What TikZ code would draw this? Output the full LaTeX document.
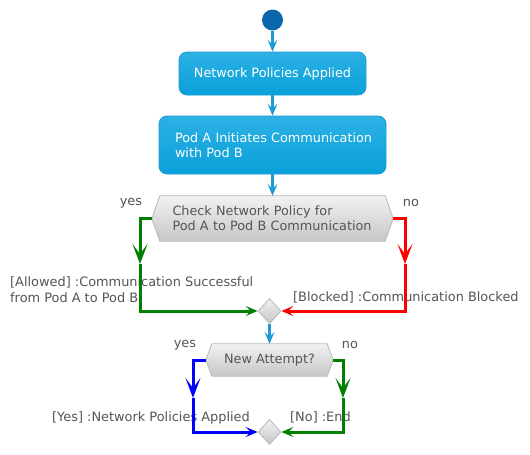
\documentclass[tikz,border=0pt]{standalone}
\usepackage{fontspec}
\setmainfont{DejaVu Sans}
\usetikzlibrary{arrows.meta,calc,shapes.geometric}
\pgfdeclarelayer{bg}
\pgfsetlayers{bg,main}
\definecolor{startc}{HTML}{0B67AC}
\definecolor{acttop}{HTML}{2CB1E4}
\definecolor{actbot}{HTML}{09A0D9}
\definecolor{actborder}{HTML}{1A9BD5}
\definecolor{flowc}{HTML}{1E9BD7}
\definecolor{hextop}{HTML}{F2F2F2}
\definecolor{hexbot}{HTML}{C6C6C6}
\definecolor{hexborder}{HTML}{B8B8B8}
\definecolor{txtgray}{HTML}{555555}
\definecolor{brgreen}{HTML}{008000}
\definecolor{brred}{HTML}{FF0000}
\definecolor{brblue}{HTML}{0000FF}
\tikzset{
  smalltip/.tip={Stealth[length=12pt,width=10pt,inset=5pt]},
  bigtip/.tip={Stealth[length=20pt,width=15pt,inset=10pt]},
  act/.style={draw=actborder, line width=0.8pt, rounded corners=8pt,
    top color=acttop, bottom color=actbot, text=white,
    font=\fontsize{12.8}{15}\selectfont, inner sep=0pt},
  hexbox/.style={inner sep=0pt, text=txtgray, font=\fontsize{12.8}{15}\selectfont},
  hexfill/.style={draw=hexborder, line width=0.8pt, top color=hextop, bottom color=hexbot},
  merge/.style={diamond, inner sep=0pt, draw=hexborder, line width=0.8pt,
    top color=hextop, bottom color=hexbot, minimum width=23pt, minimum height=25pt},
  flow/.style={draw=flowc, line width=2.5pt, -{smalltip}},
  branch/.style={line width=3pt},
  lbl/.style={text=txtgray, font=\fontsize{12.9}{16}\selectfont, inner sep=0pt},
}
\begin{document}
\begin{tikzpicture}[x=1pt,y=-1pt]
\useasboundingbox (0,0) rectangle (530,455);
\begin{pgfonlayer}{bg}
\fill[white] (0,0) rectangle (530,455);
\end{pgfonlayer}

% start
\node[circle, fill=startc, minimum size=21pt, inner sep=0pt] (st) at (272.5,20) {};

% actions
\node[act, minimum width=187pt, minimum height=43pt] (b1) at (272.5,73.5) {Network Policies Applied};
\node[act, minimum width=227pt, minimum height=58pt, text width=195pt, align=left] (b2) at (272.5,145)
  {\mbox{Pod A Initiates Communication}\\with Pod B};

% decision 1
\node[hexbox, minimum width=241pt, minimum height=45pt, text width=200pt, align=left] (chk) at (272.5,218.5)
  {Check Network Policy for\\\mbox{Pod A to Pod B Communication}};
\begin{pgfonlayer}{bg}
\path[hexfill] (chk.west) -- ([xshift=8pt]chk.north west) -- ([xshift=-8pt]chk.north east)
  -- (chk.east) -- ([xshift=-8pt]chk.south east) -- ([xshift=8pt]chk.south west) -- cycle;
\end{pgfonlayer}

% merge 1
\node[merge] (m1) at (269.5,311) {};

% decision 2
\node[hexbox, minimum width=127pt, minimum height=32pt] (att) at (269.5,360) {New Attempt?};
\begin{pgfonlayer}{bg}
\path[hexfill] (att.west) -- ([xshift=6pt]att.north west) -- ([xshift=-6pt]att.north east)
  -- (att.east) -- ([xshift=-6pt]att.south east) -- ([xshift=6pt]att.south west) -- cycle;
\end{pgfonlayer}

% merge 2
\node[merge] (m2) at (269.5,432) {};

% flow arrows
\draw[flow] (st) -- (b1);
\draw[flow] (b1) -- (b2);
\draw[flow] (b2) -- (chk);
\draw[flow] (m1) -- (att);

% branch coordinates
\coordinate (ga) at (140,264);
\coordinate (ra) at (405,264);
\coordinate (bl) at (193,398);
\coordinate (gr) at (343,398);

% labels
\node[lbl] (ly1) at (131,203) {yes};
\node[lbl] (ln1) at (411,203) {no};
\node[lbl, anchor=base west, align=left] (lal) at (10,302) {[Allowed] :Communication Successful\\from Pod A to Pod B};
\node[lbl, anchor=base west] (lbk) at (293,301) {[Blocked] :Communication Blocked};
\node[lbl] (ly2) at (185,345) {yes};
\node[lbl] (ln2) at (350,345) {no};
\node[lbl, anchor=base west] (lye) at (52,421) {[Yes] :Network Policies Applied};
\node[lbl, anchor=base west] (lno) at (290,421) {[No] :End};

% branches
\draw[branch, brgreen, -{bigtip}] (chk.west) -| (ga);
\draw[branch, brgreen, -{smalltip}] (ga) |- (m1.west);
\draw[branch, brred, -{bigtip}] (chk.east) -| (ra);
\draw[branch, brred, -{smalltip}] (ra) |- (m1.east);
\draw[branch, brblue, -{bigtip}] (att.west) -| (bl);
\draw[branch, brblue, -{smalltip}] (bl) |- (m2.west);
\draw[branch, brgreen, -{bigtip}] (att.east) -| (gr);
\draw[branch, brgreen, -{smalltip}] (gr) |- (m2.east);
\end{tikzpicture}
\end{document}
